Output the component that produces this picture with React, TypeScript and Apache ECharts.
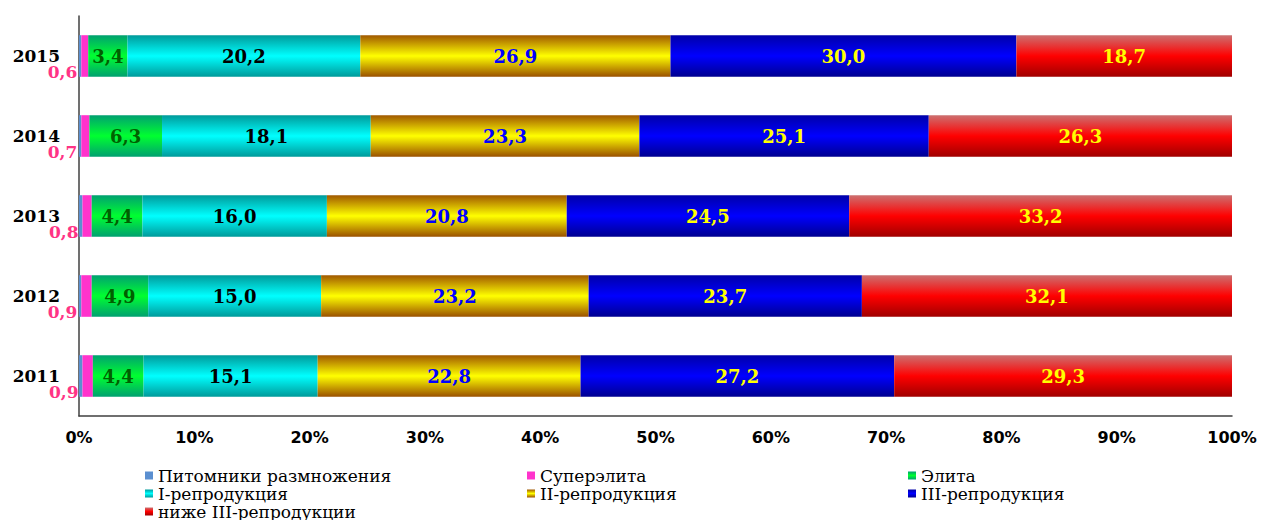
import React, { useEffect, useRef } from "react";
import * as echarts from "echarts";

const years = ["2011", "2012", "2013", "2014", "2015"];
const pitomniki = [0.3, 0.2, 0.3, 0.2, 0.2];
const superelita = [0.9, 0.9, 0.8, 0.7, 0.6];
const elita = [4.4, 4.9, 4.4, 6.3, 3.4];
const repro1 = [15.1, 15.0, 16.0, 18.1, 20.2];
const repro2 = [22.8, 23.2, 20.8, 23.3, 26.9];
const repro3 = [27.2, 23.7, 24.5, 25.1, 30.0];
const below3 = [29.3, 32.1, 33.2, 26.3, 18.7];
const xTicks = ["0%", "10%", "20%", "30%", "40%", "50%", "60%", "70%", "80%", "90%", "100%"];

const names = [
  "Питомники размножения",
  "Суперэлита",
  "Элита",
  "I-репродукция",
  "II-репродукция",
  "III-репродукция",
  "ниже III-репродукции",
];

const grad = (edge: string, mid: string, edgeBottom?: string) =>
  new echarts.graphic.LinearGradient(0, 0, 0, 1, [
    { offset: 0, color: edge },
    { offset: 0.5, color: mid },
    { offset: 1, color: edgeBottom || edge },
  ]);

const fmt = (p: any) => Number(p.value).toFixed(1).replace(".", ",");

export default function App() {
  const ref = useRef<HTMLDivElement>(null);
  useEffect(() => {
    if (!ref.current) return;
    const chart = echarts.init(ref.current, null, { renderer: "svg" });
    const labelBase = {
      show: true,
      position: "inside",
      fontFamily: "DejaVu Serif",
      fontWeight: "bold",
      fontSize: 18,
      formatter: fmt,
    };
    const datasets = [pitomniki, superelita, elita, repro1, repro2, repro3, below3];
    const colors = [
      "#5b8fd0",
      "#ff33cc",
      grad("#00a070", "#00ff30"),
      grad("#009a9a", "#00ffff"),
      grad("#a05800", "#ffff00", "#9a5000"),
      grad("#0000a8", "#0000ff", "#000090"),
      grad("#cc7070", "#ff0000", "#a00000"),
    ];
    const labels: any[] = [
      { show: false },
      { ...labelBase, fontSize: 17, position: "left", distance: 4, offset: [0, 16], color: "#ff3385" },
      { ...labelBase, color: "#006000" },
      { ...labelBase, color: "#000000" },
      { ...labelBase, color: "#0000ff" },
      { ...labelBase, color: "#ffff00" },
      { ...labelBase, color: "#ffff00" },
    ];
    const series = names.map((n, i) => ({
      name: n,
      type: "bar",
      stack: "total",
      barWidth: "52%",
      data: datasets[i],
      itemStyle: { color: colors[i] },
      label: labels[i],
      emphasis: { disabled: true },
    }));
    const legendText = { fontFamily: "DejaVu Serif", fontSize: 17, color: "#000", lineHeight: 17 };
    const mkLegend = (left: number, top: number, name: string) => ({
      left,
      top,
      itemWidth: 8,
      itemHeight: 8,
      itemTextGap: 6,
      padding: 0,
      icon: "rect",
      textStyle: legendText,
      data: [name],
      selectedMode: false,
    });
    const cols = [145, 527, 908];
    const rows = [467, 485, 503];
    chart.setOption({
      animation: false,
      grid: { left: 79, right: 30, top: 16, bottom: 104, containLabel: false },
      xAxis: {
        type: "value",
        min: 0,
        max: 100,
        interval: 10,
        axisLine: { show: true, lineStyle: { color: "#404040", width: 1.5 } },
        axisTick: { show: false },
        splitLine: { show: false },
        axisLabel: {
          fontFamily: "DejaVu Sans",
          fontWeight: "bold",
          fontSize: 16,
          color: "#000",
          margin: 13,
          formatter: (v: number) => xTicks[Math.round(v / 10)],
        },
      },
      yAxis: {
        type: "category",
        data: years,
        axisLine: { show: true, lineStyle: { color: "#404040", width: 1.5 } },
        axisTick: { show: false },
        axisLabel: {
          fontFamily: "DejaVu Serif",
          fontWeight: "bold",
          fontSize: 17,
          color: "#000",
          margin: 19,
        },
      },
      legend: [
        mkLegend(cols[0], rows[0], names[0]),
        mkLegend(cols[1], rows[0], names[1]),
        mkLegend(cols[2], rows[0], names[2]),
        mkLegend(cols[0], rows[1], names[3]),
        mkLegend(cols[1], rows[1], names[4]),
        mkLegend(cols[2], rows[1], names[5]),
        mkLegend(cols[0], rows[2], names[6]),
      ],
      series,
    });
    return () => chart.dispose();
  }, []);
  return (
    <div
      ref={ref}
      style={{ position: "absolute", left: 0, top: 0, width: 1262, height: 520 }}
    />
  );
}
